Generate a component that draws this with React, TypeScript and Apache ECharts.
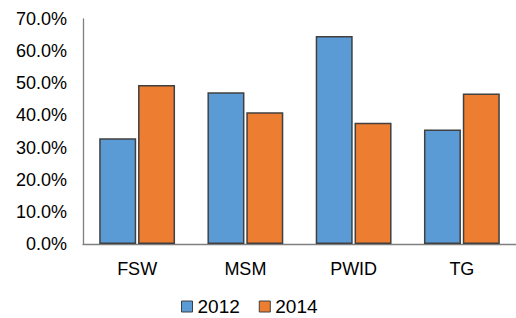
import React, { useEffect, useRef } from "react";
import * as echarts from "echarts";

const categories = ["FSW", "MSM", "PWID", "TG"];
const values2012 = [0.329, 0.472, 0.647, 0.356];
const values2014 = [0.495, 0.41, 0.377, 0.468];
const seriesNames = ["2012", "2014"];

export default function App() {
  const ref = useRef<HTMLDivElement>(null);
  useEffect(() => {
    if (!ref.current) return;
    const chart = echarts.init(ref.current, undefined, { renderer: "svg" });
    const font = "'Liberation Sans', Arial, sans-serif";
    const barStyle = (color: string) => ({
      color,
      borderColor: "#404040",
      borderWidth: 1.5,
    });
    chart.setOption({
      animation: false,
      textStyle: { fontFamily: font },
      grid: { left: 83, top: 19, width: 436, height: 225, containLabel: false },
      legend: {
        left: 181,
        top: 297,
        padding: 0,
        itemWidth: 11,
        itemHeight: 11,
        itemGap: 19,
        icon: "rect",
        textStyle: { fontSize: 19, color: "#000", fontFamily: font },
        data: seriesNames.map((n) => ({ name: n, itemStyle: { borderColor: "#404040", borderWidth: 1 } })),
      },
      xAxis: {
        type: "category",
        data: categories,
        axisLine: { lineStyle: { color: "#7f7f7f", width: 1.3 } },
        axisTick: { show: false },
        axisLabel: { fontSize: 18, color: "#000", margin: 16, fontFamily: font },
      },
      yAxis: {
        type: "value",
        min: 0,
        max: 0.7,
        interval: 0.1,
        axisLine: { show: true, lineStyle: { color: "#7f7f7f", width: 1.3 } },
        axisTick: { show: false },
        splitLine: { show: false },
        axisLabel: {
          fontSize: 18,
          color: "#000",
          margin: 16,
          fontFamily: font,
          formatter: (v: number) => (v * 100).toFixed(1) + "%",
        },
      },
      series: [
        {
          name: seriesNames[0],
          type: "bar",
          data: values2012,
          barWidth: 37,
          barGap: "5%",
          itemStyle: barStyle("#5B9BD5"),
        },
        {
          name: seriesNames[1],
          type: "bar",
          data: values2014,
          barWidth: 37,
          barGap: "5%",
          itemStyle: barStyle("#ED7D31"),
        },
      ],
    });
    return () => chart.dispose();
  }, []);
  return (
    <div
      ref={ref}
      style={{ position: "fixed", left: 0, top: 0, width: 516, height: 318, background: "#fff" }}
    />
  );
}
